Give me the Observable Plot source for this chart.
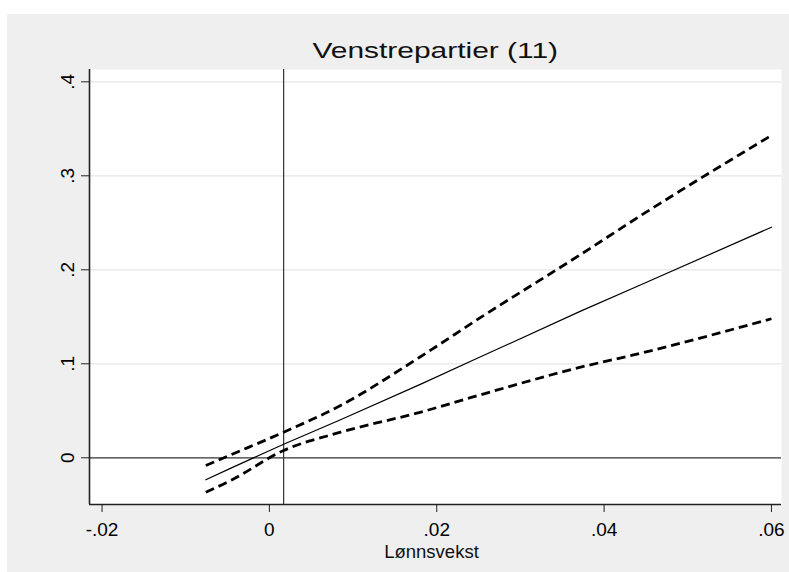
<!DOCTYPE html>
<html>
<head>
<meta charset="utf-8">
<script src="https://cdn.jsdelivr.net/npm/d3@7"></script>
<script src="https://cdn.jsdelivr.net/npm/@observablehq/plot@0.6"></script>
<style>
  html, body { margin: 0; padding: 0; background: #ffffff; }
  #wrap { position: relative; width: 789px; height: 572px; overflow: hidden; background: #ffffff; }
  #bg { position: absolute; left: 7px; top: 14px; right: 0; bottom: 0; background: #efefef; }
  #chart { position: absolute; left: 0; top: 0; }
  #title { position: absolute; left: 89px; width: 692px; top: 40px; text-align: center;
           font-family: "Liberation Sans", Arial, sans-serif; font-size: 22px; line-height: 22px; color: #111; }
  #title span { display: inline-block; transform: scaleX(1.36); transform-origin: center; }
</style>
</head>
<body>
<div id="wrap">
  <div id="bg"></div>
  <div id="chart"></div>
  <div id="title"><span>Venstrepartier (11)</span></div>
</div>
<script>
// ---- data ----
const xVals     = [-0.0076, -0.0046, 0.0017, 0.0085, 0.0181, 0.0253, 0.0372, 0.0444, 0.0600];
const fitVals   = [-0.0234, -0.0110, 0.0144, 0.0404, 0.0784, 0.1077, 0.1560, 0.1841, 0.2453];
const upperVals = [-0.0082, 0.0032, 0.0272, 0.0556, 0.1078, 0.1496, 0.2163, 0.2578, 0.3430];
const lowerVals = [-0.0366, -0.0240, 0.0078, 0.0272, 0.0486, 0.0672, 0.0964, 0.1113, 0.1479];

const refLineX = 0.0017;   // vertical reference line
const refLineY = 0;        // horizontal reference line

const xTickValues = [-0.02, 0, 0.02, 0.04, 0.06];
const xTickLabels = ["-.02", "0", ".02", ".04", ".06"];
const yTickValues = [0, 0.1, 0.2, 0.3, 0.4];
const yTickLabels = ["0", ".1", ".2", ".3", ".4"];
const yGridValues = [0.1, 0.2, 0.3, 0.4];

const xDomain = [-0.0215, 0.0612];
const yDomain = [-0.0497, 0.4131];

const titleText = "Venstrepartier (11)";
const xLabel = "Lønnsvekst";

// ---- build rows ----
const rows = xVals.map((x, i) => ({x, fit: fitVals[i], upper: upperVals[i], lower: lowerVals[i]}));

const fmtX = d => xTickLabels[xTickValues.indexOf(d)];
const fmtY = d => yTickLabels[yTickValues.indexOf(d)];

const dash = {strokeDasharray: "9,5", strokeWidth: 2.8, stroke: "#000", strokeLinecap: "butt", curve: "monotone-x"};

const chart = Plot.plot({
  width: 789,
  height: 572,
  marginLeft: 89,
  marginRight: 8,
  marginTop: 69,
  marginBottom: 68,
  style: {background: "transparent", fontFamily: "'Liberation Sans', Arial, sans-serif", fontSize: "19px", color: "#000", overflow: "visible"},
  x: {domain: xDomain},
  y: {domain: yDomain},
  marks: [
    Plot.frame({fill: "#ffffff", stroke: null}),
    Plot.gridY(yGridValues, {stroke: "#e6e6e6", strokeOpacity: 1, strokeWidth: 1.2}),
    Plot.ruleY([refLineY], {stroke: "#333", strokeWidth: 1.2}),
    Plot.ruleX([refLineX], {stroke: "#333", strokeWidth: 1.2}),
    Plot.line(rows, {x: "x", y: "upper", ...dash}),
    Plot.line(rows, {x: "x", y: "lower", ...dash}),
    Plot.line(rows, {x: "x", y: "fit", stroke: "#000", strokeWidth: 1.2}),
    Plot.ruleX([xDomain[0]], {stroke: "#222", strokeWidth: 1.6}),
    Plot.ruleY([yDomain[0]], {stroke: "#222", strokeWidth: 1.6}),
    Plot.axisX(xTickValues, {tickSize: 8, tickPadding: 10, tickFormat: fmtX, stroke: "#222",
      label: null, fontSize: 19}),
    Plot.axisY(yTickValues, {tickSize: 8, tickRotate: -90, tickPadding: 8, tickFormat: fmtY, stroke: "#222",
      label: null, fontSize: 19}),
    Plot.text([xLabel], {text: d => d, frameAnchor: "bottom", lineAnchor: "bottom", dy: 53, dx: -4,
      fontSize: 18.5, fill: "#111"})
  ]
});
document.getElementById("chart").appendChild(chart);
document.querySelector("#title span").textContent = titleText;
</script>
</body>
</html>
